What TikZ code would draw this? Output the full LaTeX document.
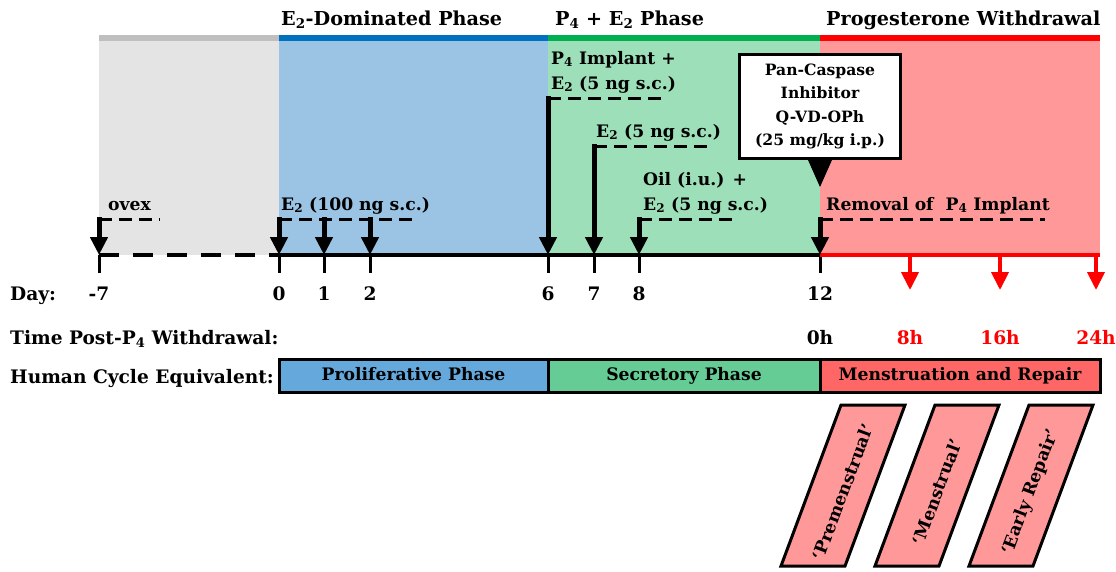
\documentclass[tikz,border=0pt]{standalone}
\usepackage{fontspec}
\setmainfont{DejaVu Serif}
\usepackage{tikz}
\usetikzlibrary{positioning,calc,arrows.meta}

\definecolor{grayline}{HTML}{BFBFBF}
\definecolor{graybg}{HTML}{E4E4E4}
\definecolor{blueline}{HTML}{0070C0}
\definecolor{bluebg}{HTML}{9AC3E4}
\definecolor{greenline}{HTML}{00B050}
\definecolor{greenbg}{HTML}{9CDFB8}
\definecolor{redline}{HTML}{FF0000}
\definecolor{redbg}{HTML}{FF9999}
\definecolor{bluecyc}{HTML}{65A8DC}
\definecolor{greencyc}{HTML}{66CC96}
\definecolor{redcyc}{HTML}{FF6666}

\begin{document}
\begin{tikzpicture}[x=1pt,y=-1pt,
	txt/.style={font=\bfseries\fontsize{17.2}{21}\selectfont,inner sep=0pt},
	head/.style={font=\bfseries\fontsize{19.2}{23}\selectfont,inner sep=0pt,anchor=base west},
	rowlabel/.style={font=\bfseries\fontsize{18.6}{22}\selectfont,inner sep=0pt},
	dose/.style={line width=5pt,line cap=rect,-{Stealth[length=18pt,width=17pt,inset=0pt]}},
	doseline/.style={line width=3pt,dash pattern=on 13pt off 7pt},
	daytick/.style={line width=3pt},
	cyclebox/.style={draw=black,line width=3pt,outer sep=0pt,minimum height=33pt,text height=12.5pt,text depth=4pt,font=\bfseries\fontsize{17.2}{21}\selectfont},
	stagebox/.style={draw=black,line width=3pt,fill=redbg,line join=miter}]
		\useasboundingbox (0,0) rectangle (1116,571);
		
		\fill[graybg] (99,41) rectangle (279,255);
		\fill[bluebg] (279,41) rectangle (548,255);
		\fill[greenbg] (548,41) rectangle (820,255);
		\fill[redbg] (820,41) rectangle (1100,255);
		\draw[grayline,line width=6pt] (99,38) -- (279,38);
		\draw[blueline,line width=6pt] (279,38) -- (548,38);
		\draw[greenline,line width=6pt] (548,38) -- (820,38);
		\draw[redline,line width=6pt] (820,38) -- (1100,38);
		
		\node[head] (tdom) at (281,25) {E\textsubscript{2}-Dominated Phase};
		\node[head] (tpe) at (555,25) {P\textsubscript{4} + E\textsubscript{2} Phase};
		\node[head] (twd) at (826,25) {Progesterone Withdrawal};
		
		\foreach \nm/\x/\lbl in {dm7/99/-7, d0/279/0, d1/324/1, d2/370/2, d6/548/6, d7/594/7, d8/639/8, d12/820/12}{
			\coordinate (\nm) at (\x,255);
			\draw[daytick] (\nm) -- ++(0,18);
			\node[rowlabel,anchor=base] (l\nm) at (\x,300) {\lbl};
		}
		\coordinate (axend) at (1100,255);
		\draw[line width=4pt,dash pattern=on 20pt off 14pt] (dm7) -- (d0);
		\draw[line width=4pt] (d0) -- (d12);
		\draw[redline,line width=4pt] (d12) -- (axend);
		
		\foreach \nm/\x/\lbl in {h8/910/8h, h16/1000/16h, h24/1096/24h}{
			\coordinate (\nm) at (\x,255);
			\coordinate (\nm tip) at (\x,290);
			\draw[dose,redline,line width=4pt,line cap=butt] (\nm) -- (\nm tip);
			\node[rowlabel,anchor=base,text=redline] (l\nm) at (\x,344) {\lbl};
		}
		\node[rowlabel,anchor=base] (l0h) at (820,344) {0h};
		
		\foreach \nm/\y/\e in {dm7/219/160, d0/219/415, d6/98/665, d7/146/710, d8/219/735, d12/219/1045}{
			\coordinate (\nm top) at ($(\nm)+(0,\y-255)$);
			\coordinate (\nm end) at (\e,\y);
			\draw[doseline] (\nm top) -- (\nm end);
			\draw[dose] (\nm top) -- (\nm);
		}
		\foreach \nm in {d1,d2}{
			\coordinate (\nm top) at ($(\nm)+(0,-36)$);
			\draw[dose] (\nm top) -- (\nm);
		}
		
		\node[txt,anchor=base west] (lovex) at (108,210) {ovex};
		\node[txt,anchor=base west] (le100) at (281,210) {E\textsubscript{2} (100 ng s.c.)};
		\node[txt,anchor=base west] (limpa) at (551,64) {P\textsubscript{4} Implant +};
		\node[txt,anchor=base west] (limpb) at (551,89) {E\textsubscript{2} (5 ng s.c.)};
		\node[txt,anchor=base west] (le5) at (596,137) {E\textsubscript{2} (5 ng s.c.)};
		\node[txt,anchor=base west] (loila) at (643,185) {Oil (i.u.) +};
		\node[txt,anchor=base west] (loilb) at (643,210) {E\textsubscript{2} (5 ng s.c.)};
		\node[txt,anchor=base west] (lrem) at (826,210) {Removal of~ P\textsubscript{4} Implant};
		
		\node[draw=black,fill=white,line width=3pt,align=center,inner sep=0pt,minimum width=161pt,minimum height=104pt,font=\bfseries\fontsize{15.6}{23.5}\selectfont] (casp) at (820,106.5) {Pan-Caspase\\Inhibitor\\Q-VD-OPh\\(25 mg/kg i.p.)};
		\coordinate (casptip) at (820,187);
		\fill ($(casp.south)+(-12,0)$) -- (casptip) -- ($(casp.south)+(12,0)$) -- cycle;
		
		\node[rowlabel,anchor=base west] (lday) at (10,300) {Day:};
		\node[rowlabel,anchor=base west] (ltime) at (10,344) {Time Post-P\textsubscript{4} Withdrawal:};
		\node[rowlabel,anchor=base west] (lhuman) at (10,383) {Human Cycle Equivalent:};
		
		\node[cyclebox,fill=bluecyc,minimum width=269pt,anchor=north west] (prolif) at (279,359.5) {Proliferative Phase};
		\node[cyclebox,fill=greencyc,minimum width=272pt,right=0pt of prolif] (secret) {Secretory Phase};
		\node[cyclebox,fill=redcyc,minimum width=280pt,right=0pt of secret] (menstr) {Menstruation and Repair};
		
		\foreach \px/\lbl [count=\i] in {781/{`Premenstrual'}, 875/{`Menstrual'}, 969/{`Early Repair'}}{
			\coordinate (s\i) at (\px,566);
			\draw[stagebox] (s\i) -- ++(64,0) -- ++(60,-161) -- ++(-64,0) -- cycle;
			\node[txt,rotate=69.5] (st\i) at ($(s\i)+(62,-74)$) {\lbl};
		}
	\end{tikzpicture}
\end{document}
